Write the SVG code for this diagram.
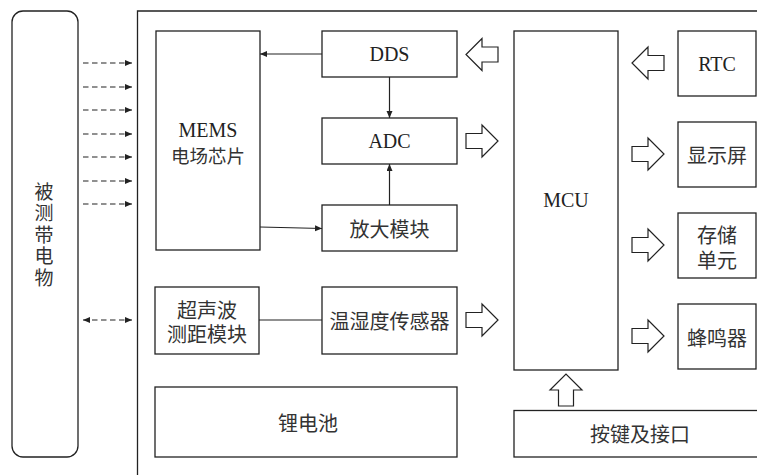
<svg xmlns="http://www.w3.org/2000/svg" width="757" height="475" viewBox="0 0 757 475">
<style>
.box{fill:#fff;stroke:#222;stroke-width:1.3}
.frame{fill:none;stroke:#222;stroke-width:1.3}
.ln{fill:none;stroke:#222;stroke-width:1.2}
.dash{fill:none;stroke:#222;stroke-width:1.2;stroke-dasharray:5.5 3.5}
.hol{fill:#fff;stroke:#222;stroke-width:1.2;stroke-linejoin:miter}
.lat{font-family:"Liberation Serif","Noto Serif",serif;font-size:20px;fill:#222;text-anchor:middle;dominant-baseline:central}
.cjk{font-family:"Noto Sans CJK SC","Noto Sans",sans-serif;font-size:20px;fill:#333;text-anchor:middle;dominant-baseline:central}
.vert{font-family:"Noto Sans CJK SC","Noto Sans",sans-serif;font-size:19px;fill:#333;writing-mode:vertical-rl;letter-spacing:2.5px}
</style>
<defs>
<marker id="ah" markerUnits="userSpaceOnUse" markerWidth="8" markerHeight="7" refX="7" refY="3" orient="auto-start-reverse">
<path d="M0,0 L7,3 L0,6 z" fill="#222"/>
</marker>
<path id="harr" d="M-16,-7.5 H0 V-16 L16,0 L0,16 V7.5 H-16 Z"/>
</defs>
<rect width="757" height="475" fill="#fff"/>

<g id="object">
<rect class="box" x="12" y="11" width="66" height="446" rx="11"/>
<text class="vert" x="44" y="182">被测带电物</text>
</g>

<g id="frame"><path class="frame" d="M137.5,475 V11 H757"/></g>

<g id="mems">
<rect class="box" x="156" y="31" width="104" height="219"/>
<text class="lat" x="208" y="130">MEMS</text>
<text class="cjk" x="208" y="155" style="font-size:18.5px">电场芯片</text>
</g>
<g id="dds">
<rect class="box" x="322" y="31" width="135" height="46"/>
<text class="lat" x="389.5" y="54">DDS</text>
</g>
<g id="adc">
<rect class="box" x="322" y="118" width="135" height="46"/>
<text class="lat" x="389.5" y="141">ADC</text>
</g>
<g id="amp">
<rect class="box" x="322" y="205" width="135" height="46"/>
<text class="cjk" x="389.5" y="228">放大模块</text>
</g>
<g id="mcu">
<rect class="box" x="514" y="31" width="104" height="339"/>
<text class="lat" x="566" y="200">MCU</text>
</g>
<g id="rtc">
<rect class="box" x="678" y="31" width="78" height="65"/>
<text class="lat" x="717" y="63.5">RTC</text>
</g>
<g id="display">
<rect class="box" x="678" y="122" width="78" height="65"/>
<text class="cjk" x="717" y="154.5">显示屏</text>
</g>
<g id="storage">
<rect class="box" x="678" y="213" width="78" height="65"/>
<text class="cjk"><tspan x="717" y="233.5">存储</tspan><tspan x="717" y="258.5">单元</tspan></text>
</g>
<g id="buzzer">
<rect class="box" x="678" y="304" width="78" height="65"/>
<text class="cjk" x="717" y="337">蜂鸣器</text>
</g>
<g id="ultrasonic">
<rect class="box" x="155" y="287" width="104" height="67"/>
<text class="cjk"><tspan x="207" y="309">超声波</tspan><tspan x="207" y="333">测距模块</tspan></text>
</g>
<g id="temphum">
<rect class="box" x="322" y="287" width="135" height="67"/>
<text class="cjk" x="389.5" y="320">温湿度传感器</text>
</g>
<g id="battery">
<rect class="box" x="155" y="387" width="302" height="70"/>
<text class="cjk" x="308" y="422">锂电池</text>
</g>
<g id="keys">
<rect class="box" x="514" y="410.5" width="250" height="46.5"/>
<text class="cjk" x="640" y="433.5">按键及接口</text>
</g>

<g id="connectors">
<line class="dash" x1="83" y1="63" x2="132" y2="63" marker-end="url(#ah)"/>
<line class="dash" x1="83" y1="87" x2="132" y2="87" marker-end="url(#ah)"/>
<line class="dash" x1="83" y1="110" x2="132" y2="110" marker-end="url(#ah)"/>
<line class="dash" x1="83" y1="134" x2="132" y2="134" marker-end="url(#ah)"/>
<line class="dash" x1="83" y1="157" x2="132" y2="157" marker-end="url(#ah)"/>
<line class="dash" x1="83" y1="181" x2="132" y2="181" marker-end="url(#ah)"/>
<line class="dash" x1="83" y1="204" x2="132" y2="204" marker-end="url(#ah)"/>
<line class="dash" x1="83" y1="320" x2="132" y2="320" marker-start="url(#ah)" marker-end="url(#ah)"/>

<line class="ln" x1="322" y1="54" x2="260" y2="54" marker-end="url(#ah)"/>
<line class="ln" x1="389.5" y1="77" x2="389.5" y2="118" marker-end="url(#ah)"/>
<line class="ln" x1="389.5" y1="205" x2="389.5" y2="164" marker-end="url(#ah)"/>
<line class="ln" x1="260" y1="227" x2="322" y2="228.5" marker-end="url(#ah)"/>
<line class="ln" x1="259" y1="320" x2="322" y2="320"/>

<use href="#harr" class="hol" transform="translate(482,54.5) scale(-1,1)"/>
<use href="#harr" class="hol" transform="translate(482,141)"/>
<use href="#harr" class="hol" transform="translate(482,320)"/>
<use href="#harr" class="hol" transform="translate(648,63) scale(-1,1)"/>
<use href="#harr" class="hol" transform="translate(648,154)"/>
<use href="#harr" class="hol" transform="translate(648,245)"/>
<use href="#harr" class="hol" transform="translate(648,336)"/>
<use href="#harr" class="hol" transform="translate(566,390) rotate(-90)"/>
</g>
</svg>
